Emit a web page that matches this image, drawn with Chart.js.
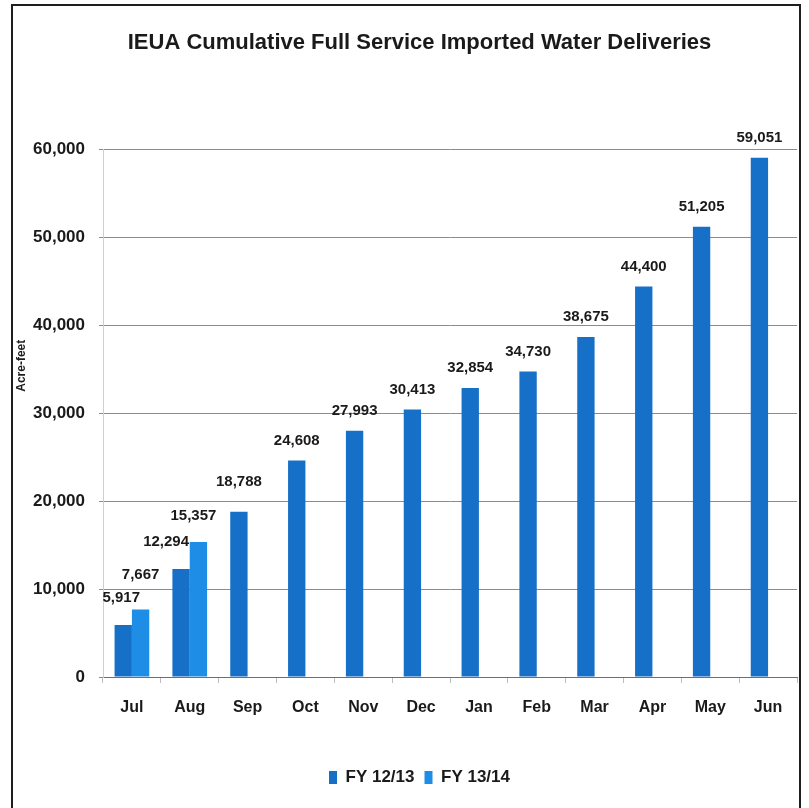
<!DOCTYPE html>
<html>
<head>
<meta charset="utf-8">
<title>IEUA Cumulative Full Service Imported Water Deliveries</title>
<script src="https://cdn.jsdelivr.net/npm/chart.js@4.4.0/dist/chart.umd.min.js"></script>
<style>
	html, body { margin: 0; padding: 0; background: #fff; }
	#wrap { position: relative; width: 809px; height: 808px; overflow: hidden; }
	#frame { position: absolute; left: 11px; top: 4px; width: 786px; height: 830px; border: 2px solid #1e1e1e; }
	#myChart { position: absolute; left: 0; top: 0; }
</style>
</head>
<body>
<div id="wrap">
	<div id="frame"></div>
	<canvas id="myChart" width="809" height="808"></canvas>
</div>
<script>
// chart data
var months = ['Jul', 'Aug', 'Sep', 'Oct', 'Nov', 'Dec', 'Jan', 'Feb', 'Mar', 'Apr', 'May', 'Jun'];
var fy1213 = [5917, 12294, 18788, 24608, 27993, 30413, 32854, 34730, 38675, 44400, 51205, 59051];
var fy1314 = [7667, 15357, null, null, null, null, null, null, null, null, null, null];
var yMin = 0;
var yMax = 60000;
var yStep = 10000;

var fontFamily = '"Liberation Sans", Arial, sans-serif';
var textColor = '#1a1a1a';

Chart.defaults.font.family = fontFamily;
Chart.defaults.color = textColor;

// value labels above the bars, plus the small rotated axis title
var barLabels = {
	id: 'barLabels',
	afterDatasetsDraw: function (chart, args, opts) {
		var ctx = chart.ctx;
		ctx.save();
		ctx.font = 'bold 15px ' + fontFamily;
		ctx.fillStyle = textColor;
		ctx.textAlign = 'center';
		ctx.textBaseline = 'middle';
		chart.data.datasets.forEach(function (ds, i) {
			chart.getDatasetMeta(i).data.forEach(function (bar, j) {
				var v = ds.data[j];
				if (v === null || v === undefined) return;
				var n = (opts.nudge[i] && opts.nudge[i][j]) || [0, 0];
				ctx.fillText(v.toLocaleString('en-US'), bar.x + n[0], bar.y - opts.offset + n[1]);
			});
		});

		var area = chart.chartArea;
		ctx.translate(22, area.top + (area.bottom - area.top) * 0.41);
		ctx.rotate(-Math.PI / 2);
		ctx.font = 'bold 12px ' + fontFamily;
		ctx.fillText('Acre-feet', 0, 0);
		ctx.restore();
	}
};

var ctx = document.getElementById('myChart').getContext('2d');
var chart = new Chart(ctx, {
	type: 'bar',
	data: {
		labels: months,
		datasets: [{
			label: 'FY 12/13',
			backgroundColor: '#1670c8',
			borderColor: '#1670c8',
			data: fy1213
		}, {
			label: 'FY 13/14',
			backgroundColor: '#1e8de6',
			borderColor: '#1e8de6',
			data: fy1314
		}]
	},
	options: {
		responsive: false,
		animation: false,
		layout: { padding: { left: 30, right: 0, top: 0, bottom: 12 } },
		datasets: {
			bar: { categoryPercentage: 0.6, barPercentage: 1.0 }
		},
		scales: {
			x: {
				grid: { drawOnChartArea: false, drawTicks: true, tickLength: 6, color: '#bdbdbd' },
				border: { display: true, color: '#6e6e6e', width: 1 },
				ticks: { font: { size: 16, weight: 'bold' }, padding: 15, color: textColor },
				afterFit: function (scale) { scale.height = 82; }
			},
			y: {
				min: yMin,
				max: yMax,
				ticks: { stepSize: yStep, font: { size: 17, weight: 'bold' }, padding: 14, color: textColor },
				grid: { color: '#8c8c8c', tickLength: 4 },
				border: { display: true, color: '#d0d0d0', width: 1 },
				afterFit: function (scale) { scale.width = 73; }
			},
			// empty right-hand axis, only to keep the plot 12px clear of the right edge
			yRight: {
				position: 'right',
				display: true,
				grid: { display: false },
				border: { display: false },
				ticks: { display: false },
				afterFit: function (scale) { scale.width = 12; }
			}
		},
		plugins: {
			title: {
				display: true,
				text: 'IEUA Cumulative Full Service Imported Water Deliveries',
				font: { size: 22, weight: 'bold' },
				color: textColor,
				padding: { top: 30, bottom: 93 }
			},
			legend: {
				position: 'bottom',
				labels: {
					boxWidth: 8,
					boxHeight: 13,
					padding: 10,
					font: { size: 17, weight: 'bold' },
					color: textColor
				}
			},
			tooltip: { enabled: false },
			barLabels: {
				offset: 20,
				nudge: {
					0: { 0: [-2, -7], 1: [-15, -7], 2: [0, -10] },
					1: { 0: [0, -15], 1: [-5, -6] }
				}
			}
		}
	},
	plugins: [barLabels]
});
</script>
</body>
</html>
